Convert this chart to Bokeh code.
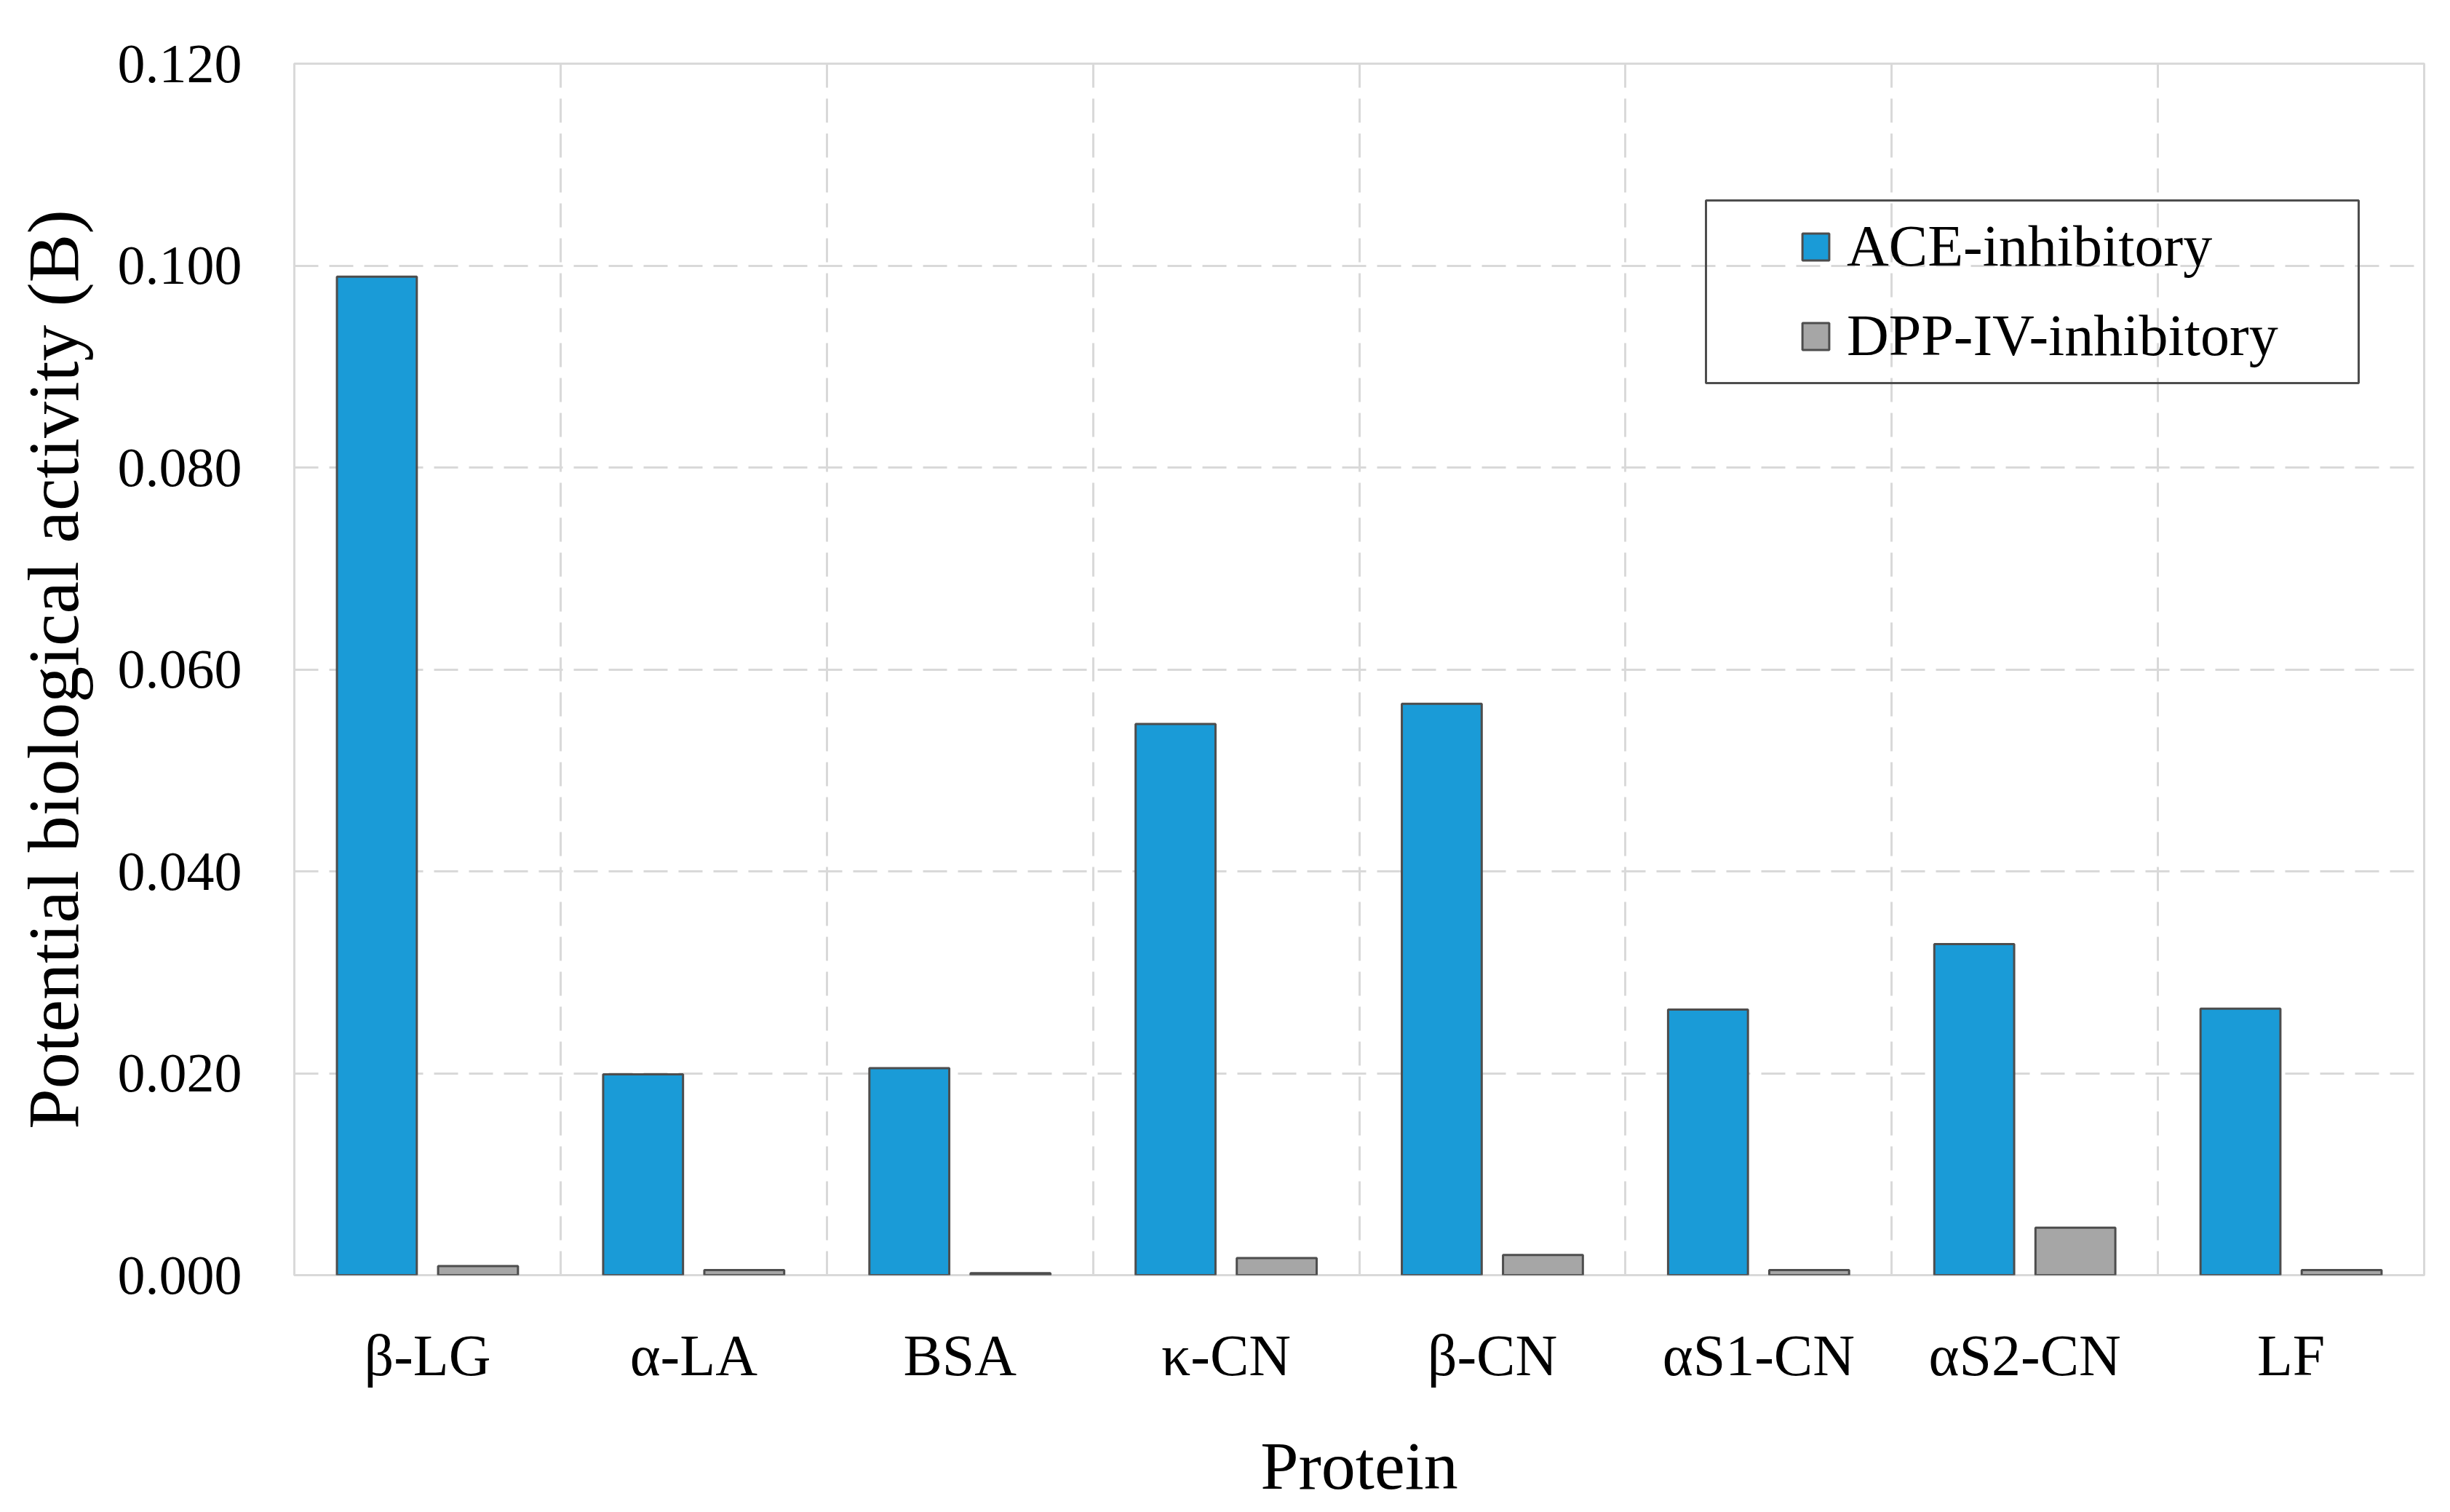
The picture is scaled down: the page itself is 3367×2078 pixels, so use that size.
from bokeh.plotting import figure
from bokeh.models import (FixedTicker, NumeralTickFormatter, Legend, LegendItem,
                          BoxAnnotation, Range1d, ColumnDataSource)
from bokeh.embed import file_html
from bokeh.resources import INLINE

# ---- data ----
proteins = ["β-LG", "α-LA", "BSA", "κ-CN", "β-CN", "αS1-CN", "αS2-CN", "LF"]
ace_inhibitory = [0.0989, 0.0199, 0.0205, 0.0546, 0.0566, 0.0263, 0.0328, 0.0264]
dpp_iv_inhibitory = [0.0009, 0.0005, 0.0002, 0.0017, 0.0020, 0.0005, 0.0047, 0.0005]
y_ticks = [0.0, 0.02, 0.04, 0.06, 0.08, 0.10, 0.12]
series_names = ["ACE-inhibitory", "DPP-IV-inhibitory"]
x_title = "Protein"
y_title = "Potential biological activity (B)"

# ---- style ----
FONT = "Liberation Serif"
ACE_COLOR = "#1a9bd7"
DPP_COLOR = "#a6a6a6"
EDGE = "#4d4d4d"
GRID = "#d9d9d9"
OFFSET = 0.19
BAR_W = 0.30

pos = [i + 1 for i in range(len(proteins))]
src = ColumnDataSource(dict(
    x_ace=[p - OFFSET for p in pos],
    x_dpp=[p + OFFSET for p in pos],
    ace=ace_inhibitory,
    dpp=dpp_iv_inhibitory,
))

p = figure(frame_width=2927, frame_height=1665,
           x_range=Range1d(0.5, len(proteins) + 0.5),
           y_range=Range1d(y_ticks[0], y_ticks[-1]),
           output_backend="svg", toolbar_location=None,
           min_border_left=404, min_border_top=87,
           min_border_right=20, min_border_bottom=10)
p.background_fill_color = "white"
p.border_fill_color = "white"
p.outline_line_color = GRID
p.outline_line_width = 3

r_ace = p.vbar(x="x_ace", top="ace", bottom=0, width=BAR_W, source=src,
               fill_color=ACE_COLOR, line_color=EDGE, line_width=3)
r_dpp = p.vbar(x="x_dpp", top="dpp", bottom=0, width=BAR_W, source=src,
               fill_color=DPP_COLOR, line_color=EDGE, line_width=3)

# axes
p.yaxis.ticker = FixedTicker(ticks=y_ticks)
p.yaxis.formatter = NumeralTickFormatter(format="0.000")
p.xaxis.ticker = FixedTicker(ticks=pos)
p.xaxis.major_label_overrides = {pp: name for pp, name in zip(pos, proteins)}
for ax in (p.xaxis[0], p.yaxis[0]):
    ax.axis_line_color = None
    ax.major_tick_line_color = None
    ax.minor_tick_line_color = None
    ax.major_tick_out = 0
    ax.major_tick_in = 0
    ax.major_label_text_font = FONT
    ax.major_label_text_color = "black"
    ax.axis_label_text_font = FONT
    ax.axis_label_text_font_style = "normal"
    ax.axis_label_text_color = "black"
p.xaxis.axis_label = x_title
p.yaxis.axis_label = y_title
p.xaxis.axis_label_text_font_size = "94px"
p.yaxis.axis_label_text_font_size = "100px"
p.xaxis.major_label_text_font_size = "80px"
p.yaxis.major_label_text_font_size = "76px"
p.xaxis.major_label_standoff = 66
p.yaxis.major_label_standoff = 72
p.xaxis.axis_label_standoff = 52
p.yaxis.axis_label_standoff = 30

# grids
p.xgrid.ticker = FixedTicker(ticks=[(a + b) / 2 for a, b in zip(pos[:-1], pos[1:])])
p.ygrid.ticker = FixedTicker(ticks=y_ticks)
for g in (p.xgrid[0], p.ygrid[0]):
    g.grid_line_color = GRID
    g.grid_line_width = 3
    g.grid_line_dash = "33 15"

# legend
legend = Legend(items=[LegendItem(label=series_names[0], renderers=[r_ace]),
                       LegendItem(label=series_names[1], renderers=[r_dpp])],
                location=(2068, 1245), padding=0, margin=0,
                border_line_color=None, background_fill_alpha=0,
                glyph_width=46, glyph_height=46, label_standoff=20,
                spacing=32, label_text_font=FONT, label_text_font_size="80px",
                label_text_color="black")
p.add_layout(legend)

box = BoxAnnotation(left=1940, right=2837, bottom=1226, top=1477,
                    left_units="screen", right_units="screen",
                    bottom_units="screen", top_units="screen",
                    fill_alpha=0, line_color=EDGE, line_alpha=1.0, line_width=3)
p.add_layout(box)

open("out.html", "w").write(file_html(p, INLINE))
